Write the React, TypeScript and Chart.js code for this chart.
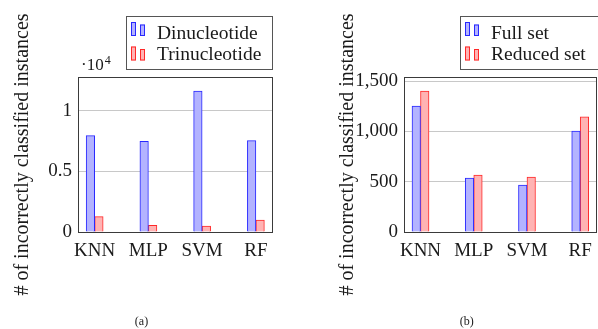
import React, { useEffect, useRef } from 'react';
import { Chart, registerables } from 'chart.js';

Chart.register(...registerables);

const categories = ['KNN', 'MLP', 'SVM', 'RF'];
const dinucleotide = [7930, 7470, 11600, 7520];
const trinucleotide = [1260, 550, 490, 980];
const fullSet = [1250, 535, 465, 1003];
const reducedSet = [1400, 565, 545, 1145];
const leftTicks = [0, 5000, 10000];
const rightTicks = [0, 500, 1000, 1500];
const leftMax = 12760;
const rightMax = 1540;
const yTitle = '# of incorrectly classified instances';

const BLUE_FILL = 'rgb(179,179,255)';
const BLUE_LINE = 'rgb(40,40,255)';
const RED_FILL = 'rgb(255,179,179)';
const RED_LINE = 'rgb(255,40,40)';
const GRID = '#c8c8c8';
const FRAME = '#3a3a3a';
const TEXT = '#1a1a1a';
const SERIF = "'Liberation Serif', 'Times New Roman', serif";

type Extra = {
  legendX: number;
  legendW: number;
  labels: string[];
  colors: { fill: string; line: string }[];
  caption: string;
  captionX: number;
  exponent: boolean;
};

function extrasPlugin(ex: Extra) {
  return {
    id: 'extras',
    afterDatasetsDraw(chart: any) {
      const { ctx, chartArea } = chart;
      ctx.save();
      ctx.strokeStyle = FRAME;
      ctx.lineWidth = 1;
      const l = Math.round(chartArea.left) + 0.5;
      const t = Math.round(chartArea.top) + 0.5;
      const r = Math.round(chartArea.right) + 0.5;
      const b = Math.round(chartArea.bottom) + 0.5;
      ctx.strokeRect(l, t, r - l, b - t);
      ctx.restore();
    },
    afterDraw(chart: any) {
      const { ctx } = chart;
      ctx.save();
      // legend box
      const bx = ex.legendX;
      const by = 16;
      ctx.fillStyle = '#ffffff';
      ctx.fillRect(bx + 0.5, by + 0.5, ex.legendW, 53);
      ctx.strokeStyle = '#555555';
      ctx.lineWidth = 1;
      ctx.strokeRect(bx + 0.5, by + 0.5, ex.legendW, 53);
      ex.labels.forEach((lab, i) => {
        const c = ex.colors[i];
        const top = 22 + i * 24.5;
        ctx.fillStyle = c.fill;
        ctx.strokeStyle = c.line;
        ctx.fillRect(bx + 5, top, 5, 14);
        ctx.strokeRect(bx + 5.5, top + 0.5, 4, 13);
        ctx.fillRect(bx + 14, top + 2.5, 5, 11.5);
        ctx.strokeRect(bx + 14.5, top + 3, 4, 10.5);
        ctx.fillStyle = TEXT;
        ctx.font = `19.5px ${SERIF}`;
        ctx.textAlign = 'left';
        ctx.textBaseline = 'alphabetic';
        ctx.fillText(lab, bx + 31, 38.5 + i * 21.8);
      });
      // exponent label
      if (ex.exponent) {
        ctx.fillStyle = TEXT;
        ctx.textAlign = 'left';
        ctx.textBaseline = 'alphabetic';
        ctx.font = `17px ${SERIF}`;
        ctx.fillText('\u00b710', 81, 70);
        const w = ctx.measureText('\u00b710').width;
        ctx.font = `12px ${SERIF}`;
        ctx.fillText('4', 81 + w + 1, 64);
      }
      // caption
      ctx.fillStyle = TEXT;
      ctx.font = `12px ${SERIF}`;
      ctx.textAlign = 'center';
      ctx.textBaseline = 'middle';
      ctx.fillText(ex.caption, ex.captionX, 321.5);
      ctx.restore();
    },
  };
}

function buildChart(
  canvas: HTMLCanvasElement,
  series: { label: string; data: number[]; fill: string; line: string }[],
  yMax: number,
  yTickVals: number[],
  yFmt: (v: number) => string,
  yWidth: number,
  padRight: number,
  titlePad: number,
  ex: Extra
) {
  const tickFont = { family: SERIF, size: 19 };
  return new Chart(canvas, {
    type: 'bar',
    data: {
      datasets: series.map((s) => ({
        label: s.label,
        data: s.data.map((v, i) => ({ x: i, y: v })),
        backgroundColor: s.fill,
        borderColor: s.line,
        borderWidth: 1,
        borderSkipped: 'start',
        barThickness: 8.5,
      })),
    } as any,
    options: {
      responsive: false,
      animation: false,
      layout: { padding: { left: 0, top: 77, right: padRight, bottom: 0 } },
      plugins: { legend: { display: false }, tooltip: { enabled: false } },
      scales: {
        x: {
          type: 'linear',
          offset: false,
          bounds: 'data',
          min: -0.31,
          max: 3.3,
          grid: { display: false, drawTicks: false },
          border: { display: false },
          afterBuildTicks: (a: any) => {
            a.ticks = categories.map((_, i) => ({ value: i }));
          },
          afterFit: (a: any) => {
            a.height = 97;
          },
          ticks: {
            padding: 8,
            autoSkip: false,
            maxRotation: 0,
            font: tickFont,
            color: TEXT,
            callback: (v: any) => categories[v as number] ?? '',
          },
        },
        y: {
          type: 'linear',
          bounds: 'data',
          min: 0,
          max: yMax,
          grid: { color: GRID, drawTicks: false, lineWidth: 1 },
          border: { display: false },
          afterBuildTicks: (a: any) => {
            a.ticks = yTickVals.map((v) => ({ value: v }));
          },
          afterFit: (a: any) => {
            a.width = yWidth;
          },
          ticks: {
            padding: 6,
            font: tickFont,
            color: TEXT,
            callback: (v: any) => yFmt(v as number),
          },
          title: {
            display: true,
            text: yTitle,
            color: TEXT,
            font: { family: SERIF, size: 20 },
            padding: { top: titlePad, bottom: 0 },
          },
        },
      },
    } as any,
    plugins: [extrasPlugin(ex)],
  });
}

export default function App() {
  const leftRef = useRef<HTMLCanvasElement>(null);
  const rightRef = useRef<HTMLCanvasElement>(null);

  useEffect(() => {
    const c1 = buildChart(
      leftRef.current!,
      [
        { label: 'Dinucleotide', data: dinucleotide, fill: BLUE_FILL, line: BLUE_LINE },
        { label: 'Trinucleotide', data: trinucleotide, fill: RED_FILL, line: RED_LINE },
      ],
      leftMax,
      leftTicks,
      (v) => String(v / 10000),
      78,
      28,
      11,
      {
        legendX: 126,
        legendW: 146,
        labels: ['Dinucleotide', 'Trinucleotide'],
        colors: [
          { fill: BLUE_FILL, line: BLUE_LINE },
          { fill: RED_FILL, line: RED_LINE },
        ],
        caption: '(a)',
        captionX: 141.5,
        exponent: true,
      }
    );
    const c2 = buildChart(
      rightRef.current!,
      [
        { label: 'Full set', data: fullSet, fill: BLUE_FILL, line: BLUE_LINE },
        { label: 'Reduced set', data: reducedSet, fill: RED_FILL, line: RED_LINE },
      ],
      rightMax,
      rightTicks,
      (v) => v.toLocaleString('en-US'),
      104,
      2,
      36,
      {
        legendX: 160,
        legendW: 138,
        labels: ['Full set', 'Reduced set'],
        colors: [
          { fill: BLUE_FILL, line: BLUE_LINE },
          { fill: RED_FILL, line: RED_LINE },
        ],
        caption: '(b)',
        captionX: 166.7,
        exponent: false,
      }
    );
    return () => {
      c1.destroy();
      c2.destroy();
    };
  }, []);

  return (
    <div
      style={{
        position: 'absolute',
        left: 0,
        top: 0,
        width: 598,
        height: 329,
        overflow: 'hidden',
        background: '#ffffff',
      }}
    >
      <canvas
        ref={leftRef}
        width={300}
        height={329}
        style={{ position: 'absolute', left: 0, top: 0, width: 300, height: 329 }}
      />
      <canvas
        ref={rightRef}
        width={300}
        height={329}
        style={{ position: 'absolute', left: 300, top: 0, width: 300, height: 329 }}
      />
    </div>
  );
}
